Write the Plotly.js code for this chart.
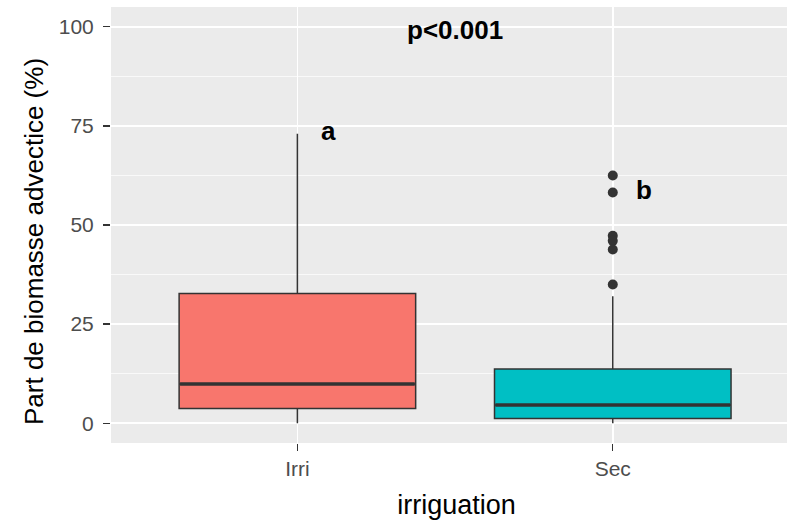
<!DOCTYPE html>
<html>
<head>
<meta charset="utf-8">
<script src="https://cdn.plot.ly/plotly-3.0.1.min.js"></script>
<style>
  html, body { margin: 0; padding: 0; overflow: hidden; background: #fff; }
  #chart { width: 803px; height: 529px; }
</style>
</head>
<body>
<div id="chart"></div>
<script>
// ---- data ----
const categories = ['Irri', 'Sec'];
const q1Values = [3.7, 1.2];
const medianValues = [9.9, 4.6];
const q3Values = [32.7, 13.7];
const lowerWhiskers = [0, 0];
const upperWhiskers = [73.0, 32.0];
const secOutliers = [62.5, 58.2, 47.3, 46.0, 43.8, 35.0];
const groupLetters = ['a', 'b'];
const letterY = [73.6, 58.9];
const pValueText = 'p<0.001';
const pValueY = 99.2;
const yTickValues = [0, 25, 50, 75, 100];
const xTitle = 'irriguation';
const yTitle = 'Part de biomasse advectice (%)';

const fillColors = ['#F8766D', '#00BFC4'];
const boxWidth = 0.75;
const font = 'Liberation Sans, Arial, Helvetica, sans-serif';
const catIndex = categories.map((c, i) => i);

const traces = [];
categories.forEach((cat, i) => {
  traces.push({
    type: 'box',
    x: [catIndex[i]],
    q1: [q1Values[i]],
    median: [medianValues[i]],
    q3: [q3Values[i]],
    lowerfence: [lowerWhiskers[i]],
    upperfence: [upperWhiskers[i]],
    width: boxWidth,
    whiskerwidth: 0,
    fillcolor: fillColors[i],
    line: { color: '#333333', width: 1.5 },
    hoverinfo: 'skip',
    showlegend: false
  });
  // thicker median line (ggplot fatten)
  traces.push({
    type: 'scatter',
    mode: 'lines',
    x: [catIndex[i] - boxWidth / 2 + 0.003, catIndex[i] + boxWidth / 2 - 0.003],
    y: [medianValues[i], medianValues[i]],
    line: { color: '#333333', width: 3.4 },
    hoverinfo: 'skip',
    showlegend: false
  });
});
traces.push({
  type: 'scatter',
  mode: 'markers',
  x: secOutliers.map(() => catIndex[1]),
  y: secOutliers,
  marker: { color: '#333333', size: 10 },
  hoverinfo: 'skip',
  showlegend: false
});

const annotations = groupLetters.map((t, i) => ({
  x: catIndex[i] + 0.1, y: letterY[i], xref: 'x', yref: 'y',
  text: t, showarrow: false, xanchor: 'center', yanchor: 'middle',
  font: { family: font, size: 26, color: '#000000', weight: 'bold' }
}));
annotations.push({
  x: 0.5, y: pValueY, xref: 'x', yref: 'y',
  text: pValueText, showarrow: false, xanchor: 'center', yanchor: 'middle',
  font: { family: font, size: 26, color: '#000000', weight: 'bold' }
});
// y axis title
annotations.push({
  x: 0, xref: 'paper', xshift: -77, xanchor: 'center',
  y: 0.5, yref: 'paper', yshift: -17, yanchor: 'middle',
  text: yTitle, textangle: -90, showarrow: false,
  font: { family: font, size: 26, color: '#000000' }
});

const layout = {
  width: 803,
  height: 529,
  margin: { l: 111, r: 1, t: 7, b: 86 },
  paper_bgcolor: '#FFFFFF',
  plot_bgcolor: '#EBEBEB',
  showlegend: false,
  font: { family: font },
  xaxis: {
    range: [-0.591, 1.6],
    tickmode: 'array',
    tickvals: catIndex,
    ticktext: categories,
    showgrid: true,
    gridcolor: '#FFFFFF',
    gridwidth: 1.5,
    zeroline: false,
    showline: false,
    ticks: 'outside',
    ticklen: 7,
    tickwidth: 1.2,
    tickcolor: '#333333',
    tickfont: { family: font, size: 21, color: '#4D4D4D' },
    title: { text: xTitle, font: { family: font, size: 27, color: '#000000' }, standoff: 15 }
  },
  yaxis: {
    range: [-5, 105],
    tickmode: 'array',
    tickvals: yTickValues,
    ticktext: yTickValues.map(String),
    showgrid: true,
    gridcolor: '#FFFFFF',
    gridwidth: 1.5,
    minor: { tickmode: 'linear', dtick: 12.5, tick0: 0, showgrid: true, gridcolor: '#FFFFFF', gridwidth: 0.7 },
    zeroline: false,
    showline: false,
    ticks: 'outside',
    ticklen: 7,
    tickwidth: 1.2,
    tickcolor: '#333333',
    ticklabelstandoff: 5,
    tickfont: { family: font, size: 21, color: '#4D4D4D' }
  },
  annotations: annotations
};

Plotly.newPlot('chart', traces, layout, { staticPlot: true, displayModeBar: false });
</script>
</body>
</html>
